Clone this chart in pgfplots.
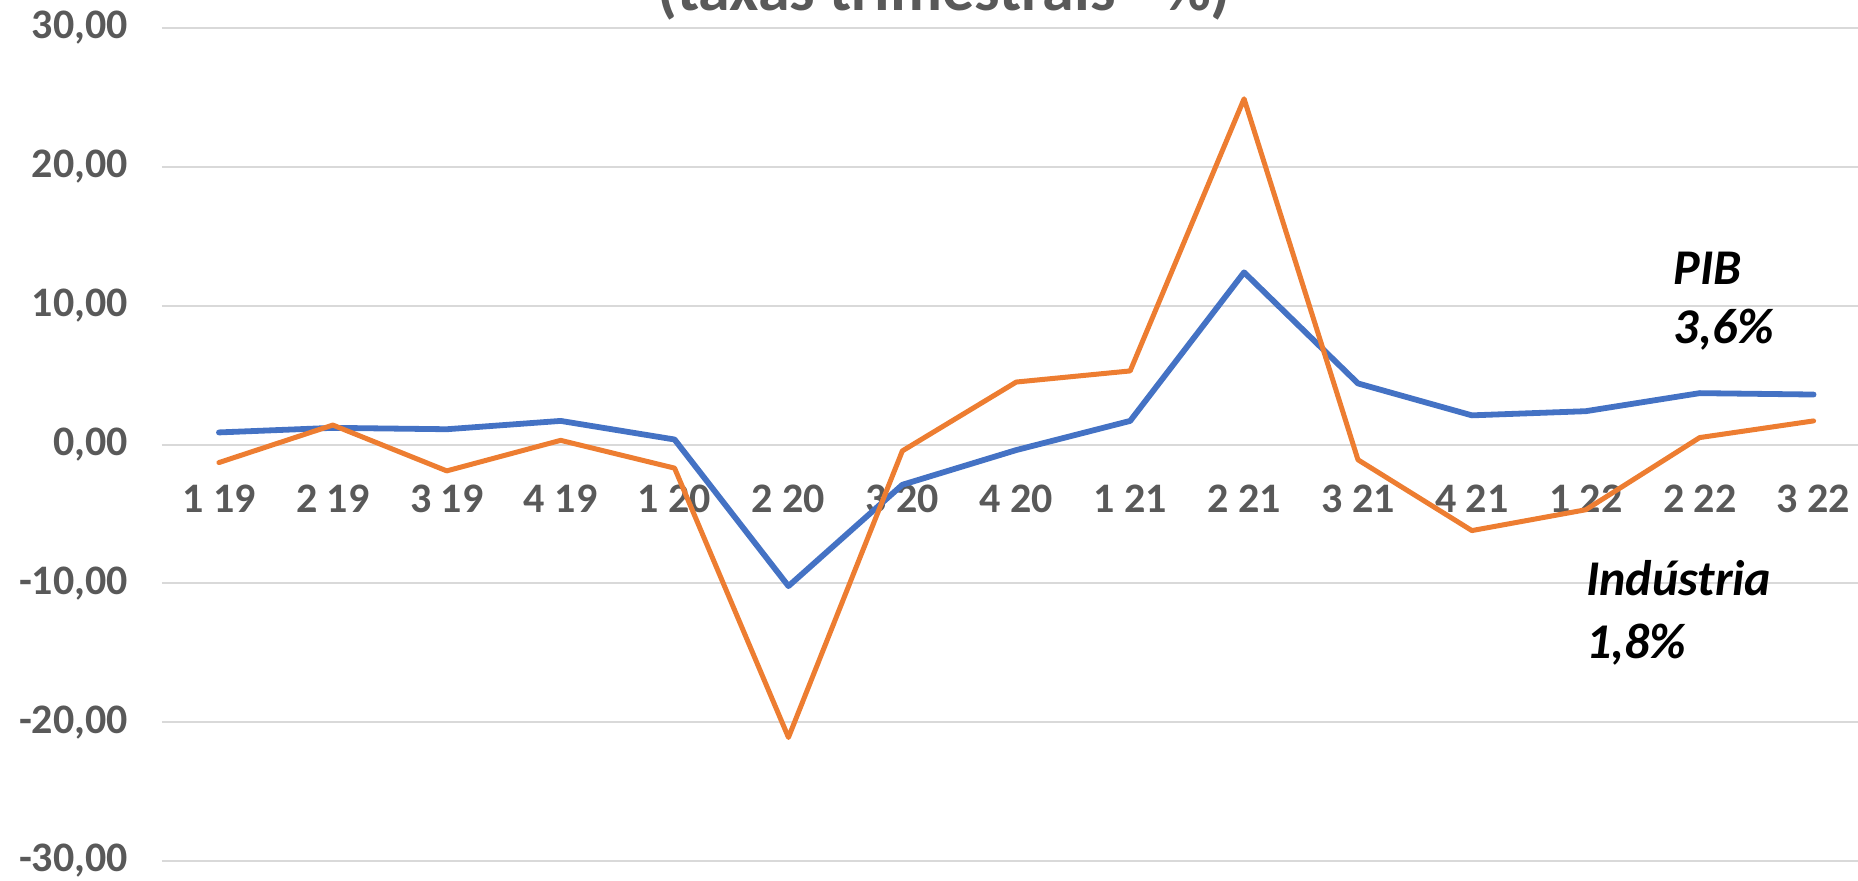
\documentclass[border=0pt]{standalone}
\usepackage{pgfplots}
\pgfplotsset{compat=1.18}
\usepackage{fontspec}
\setmainfont{Carlito}
\definecolor{txt}{HTML}{595959}
\definecolor{grd}{HTML}{D9D9D9}
\definecolor{pib}{HTML}{4472C4}
\definecolor{ind}{HTML}{ED7D31}
\begin{document}
\begin{tikzpicture}
\path[use as bounding box] (0,0) rectangle (929pt,440pt);
\clip (0,0) rectangle (929pt,440pt);
\node[anchor=base, font=\fontsize{32}{38}\selectfont\bfseries, text=txt, inner sep=0pt] at (472pt,434.5pt) {(taxas trimestrais - \%)};
\begin{axis}[
  at={(81pt,9.5pt)}, anchor=south west, scale only axis,
  width=848pt, height=416.5pt,
  xmin=-0.5, xmax=14.39, ymin=-30, ymax=30,
  axis x line=middle, axis y line=left,
  x axis line style={draw=none,-}, y axis line style={draw=none,-},
  hide obscured x ticks=false, hide obscured y ticks=false,
  xtick={0,1,...,14},
  xticklabels={1 19,2 19,3 19,4 19,1 20,2 20,3 20,4 20,1 21,2 21,3 21,4 21,1 22,2 22,3 22},
  major tick length=0pt,
  ytick={-30,-20,-10,0,10,20,30},
  ymajorgrids, grid style={grd, line width=1pt},
  tick label style={font=\fontsize{21}{25}\selectfont\bfseries, text=txt},
  xticklabel style={anchor=north, yshift=-16.5pt},
  yticklabel style={anchor=east, xshift=-13.5pt, /pgf/number format/.cd, fixed, fixed zerofill, precision=2, use comma, assume math mode=true},
  clip=false,
]
\addplot[pib, line width=2.9pt, line join=round, line cap=round] coordinates {
(0,0.87) (1,1.2) (2,1.1) (3,1.7) (4,0.36) (5,-10.2) (6,-2.9) (7,-0.4) (8,1.7) (9,12.4) (10,4.4) (11,2.1) (12,2.4) (13,3.7) (14,3.6)
};
\addplot[ind, line width=2.5pt, line join=round, line cap=round] coordinates {
(0,-1.3) (1,1.4) (2,-1.9) (3,0.3) (4,-1.7) (5,-21.1) (6,-0.46) (7,4.5) (8,5.3) (9,24.9) (10,-1.1) (11,-6.2) (12,-4.7) (13,0.5) (14,1.7)
};
\node[anchor=base west, font=\fontsize{25}{30}\selectfont\bfseries\itshape, inner sep=0pt] at (axis cs:12.77,11.5) {PIB};
\node[anchor=base west, font=\fontsize{25}{30}\selectfont\bfseries\itshape, inner sep=0pt] at (axis cs:12.77,7.3) {3,6\%};
\node[anchor=base west, font=\fontsize{25}{30}\selectfont\bfseries\itshape, inner sep=0pt] at (axis cs:12.0,-10.84) {Indústria};
\node[anchor=base west, font=\fontsize{25}{30}\selectfont\bfseries\itshape, inner sep=0pt] at (axis cs:12.0,-15.4) {1,8\%};
\end{axis}
\end{tikzpicture}
\end{document}
